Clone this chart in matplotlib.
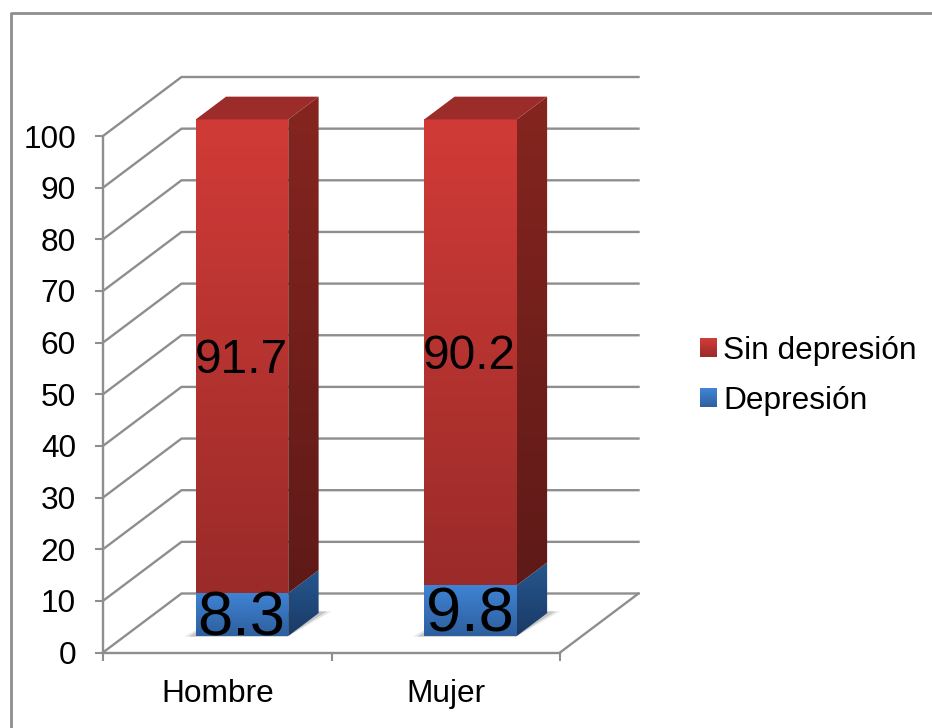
import numpy as np
import matplotlib
matplotlib.use("Agg")
import matplotlib.pyplot as plt
from matplotlib.colors import to_rgb
from matplotlib.lines import Line2D
from matplotlib.patches import Rectangle, Polygon
from matplotlib.path import Path
from matplotlib.transforms import IdentityTransform
from matplotlib.legend_handler import HandlerBase

categories = ["Hombre", "Mujer"]
depresion = [8.3, 9.8]
sin_depresion = [91.7, 90.2]
y_ticks = [0, 10, 20, 30, 40, 50, 60, 70, 80, 90, 100]
series_names = ["Sin depresión", "Depresión"]

W, H = 932, 728
GREY = "#8e8e8e"
plt.rcParams["font.family"] = ["Liberation Sans", "DejaVu Sans"]

fig = plt.figure(figsize=(W / 100, H / 100), dpi=100, facecolor="white")
ax = fig.add_axes([103 / W, (H - 652.5) / H, 457 / W, 516.5 / H])
ax.set_xlim(0, 2)
ax.set_ylim(0, 100)
ax.set_autoscale_on(False)
ax.patch.set_visible(False)

for s in ("top", "right"):
    ax.spines[s].set_visible(False)
for s in ("left", "bottom"):
    ax.spines[s].set_color(GREY)
    ax.spines[s].set_linewidth(1.7)

ax.set_yticks(y_ticks)
ax.tick_params(axis="y", length=6, width=1.5, color=GREY, labelsize=22.8, pad=13.5)
ax.set_xticks([0, 1, 2])
ax.set_xticklabels([])
ax.tick_params(axis="x", length=6, width=1.5, color=GREY)
centres = [i + 0.5 for i in range(len(categories))]
ax.set_xticks(centres, minor=True)
ax.set_xticklabels(categories, minor=True, fontsize=22.8)
ax.tick_params(axis="x", which="minor", length=0, pad=19)

# Oblique projection: depth runs from 0 (front) to 1 (back wall)
DX, DY = 78.5, 59.0


def project(x, v, d=0.0):
    px, py = ax.transData.transform((x, v))
    return (px + DX * d, py + DY * d)


def pix_line(pts, **kw):
    ident = IdentityTransform()
    xs, ys = zip(*pts)
    ax.add_line(Line2D(xs, ys, transform=ident, clip_on=False, color=GREY,
                       lw=1.7, zorder=1, **kw))


for v in y_ticks:
    pix_line([project(0, v), project(0, v, 1), project(2, v, 1)])
pix_line([project(2, 0), project(2, 0, 1)])


def gradient_face(corners, c_top, c_bottom, z):
    corners = np.array(corners)
    x0, y0 = corners.min(axis=0)
    x1, y1 = corners.max(axis=0)
    t = np.linspace(0, 1, 256)[:, None, None]
    img = (1 - t) * np.array(to_rgb(c_top))[None, None, :] + t * np.array(to_rgb(c_bottom))[None, None, :]
    im = ax.imshow(img, extent=(x0, x1, y0, y1), transform=IdentityTransform(),
                   aspect="auto", interpolation="bilinear", zorder=z)
    im.set_clip_box(fig.bbox)
    im.set_clip_path(Path(np.vstack([corners, corners[0]])), IdentityTransform())
    return im


BAR_W = 0.405
D0, D1 = 0.28, 0.667
SHIFT = 0.012
LABEL_DROP = 4.5

for i, (low, high) in enumerate(zip(depresion, sin_depresion)):
    xl = centres[i] + SHIFT - BAR_W / 2
    xr = centres[i] + SHIFT + BAR_W / 2
    top = low + high

    # soft shadow on the floor
    for grow, col in ((0.045, "#e6e6e6"), (0.025, "#c4c4c4")):
        sh = [project(xl - grow, 0, D0 - 0.01), project(xr, 0, D0 - 0.01),
              project(xr + grow, 0, D1 + 0.03), project(xl, 0, D1 + 0.03)]
        ax.add_patch(Polygon(sh, closed=True, transform=IdentityTransform(),
                             facecolor=col, edgecolor="none", clip_on=False, zorder=2))

    # blue segment
    gradient_face([project(xl, 0, D0), project(xr, 0, D0), project(xr, low, D0), project(xl, low, D0)],
                  "#3F83D4", "#2E5F9E", 3)
    gradient_face([project(xr, 0, D0), project(xr, 0, D1), project(xr, low, D1), project(xr, low, D0)],
                  "#26578F", "#1A3A66", 3)
    # red segment
    gradient_face([project(xl, low, D0), project(xr, low, D0), project(xr, top, D0), project(xl, top, D0)],
                  "#D13B37", "#9A2B29", 3)
    gradient_face([project(xr, low, D0), project(xr, low, D1), project(xr, top, D1), project(xr, top, D0)],
                  "#86251F", "#5E1A18", 3)
    # top face
    ax.add_patch(Polygon([project(xl, top, D0), project(xr, top, D0), project(xr, top, D1), project(xl, top, D1)],
                         closed=True, transform=IdentityTransform(), facecolor="#9B2C2A",
                         edgecolor="none", clip_on=False, zorder=3))

    # value labels, centred on the front face of each segment
    lx, ly = project(centres[i] + SHIFT, low / 2, D0)
    ax.text(lx - 1, ly - LABEL_DROP, f"{low:g}", transform=IdentityTransform(), ha="center", va="center",
            fontsize=45.5, color="black", zorder=5, clip_on=False)
    lx, ly = project(centres[i] + SHIFT, low + high / 2, D0)
    ax.text(lx - 1, ly - LABEL_DROP, f"{high:g}", transform=IdentityTransform(), ha="center", va="center",
            fontsize=34.4, color="black", zorder=5, clip_on=False)


class GradientHandler(HandlerBase):
    def __init__(self, c_top, c_bottom):
        super().__init__()
        self.c_top = np.array(to_rgb(c_top))
        self.c_bottom = np.array(to_rgb(c_bottom))

    def create_artists(self, legend, orig, xd, yd, w, h, fs, trans):
        n = 17
        out = []
        for k in range(n):
            t = k / (n - 1)
            col = (1 - t) * self.c_top + t * self.c_bottom
            out.append(Rectangle((-xd, -yd + h * (n - 1 - k) / n), w, h / n * 1.05,
                                 facecolor=col, edgecolor="none", transform=trans))
        return out


h_red = Rectangle((0, 0), 1, 1)
h_blue = Rectangle((0, 0), 1, 1)
leg = fig.legend(
    [h_red, h_blue], series_names,
    handler_map={h_red: GradientHandler("#D13B37", "#9A2B29"),
                 h_blue: GradientHandler("#3F83D4", "#2E5F9E")},
    loc="center left", bbox_to_anchor=(700 / W, (H - 376) / H), frameon=False,
    fontsize=22.8, handlelength=0.54, handleheight=0.54, handletextpad=0.2,
    labelspacing=0.64, borderpad=0, borderaxespad=0,
)

# Outer frame (its right and bottom sides lie beyond the picture)
fig.add_artist(Line2D([11 / W, 11 / W, 1], [0, (H - 13) / H, (H - 13) / H],
                      transform=fig.transFigure, color=GREY, lw=2.0))

fig.savefig("out.png", dpi=100, facecolor="white")
